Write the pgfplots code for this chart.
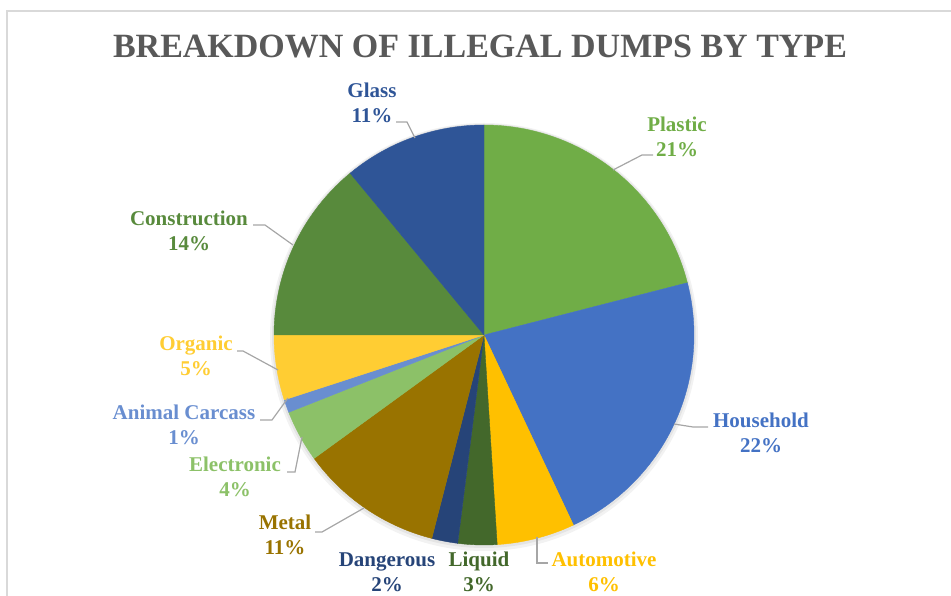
\documentclass[border=0pt]{standalone}
\usepackage{pgfplots}
\pgfplotsset{compat=1.18}
\usepackage{pgfplotstable}
\usepackage{fontspec}
\setmainfont{Liberation Serif}

\definecolor{cPlastic}{HTML}{70AD47}
\definecolor{cHousehold}{HTML}{4472C4}
\definecolor{cAutomotive}{HTML}{FFC000}
\definecolor{cLiquid}{HTML}{43682B}
\definecolor{cDangerous}{HTML}{264478}
\definecolor{cMetal}{HTML}{997300}
\definecolor{cElectronic}{HTML}{8CC168}
\definecolor{cAnimal}{HTML}{698ED0}
\definecolor{cOrganic}{HTML}{FFCD33}
\definecolor{cConstruction}{HTML}{588A3C}
\definecolor{cGlass}{HTML}{2F5597}
\definecolor{cTitle}{HTML}{595959}
\definecolor{cBorder}{HTML}{D9D9D9}
\definecolor{cLeader}{HTML}{A6A6A6}

\pgfplotstableread{
name value color
Plastic 21 cPlastic
Household 22 cHousehold
Automotive 6 cAutomotive
Liquid 3 cLiquid
Dangerous 2 cDangerous
Metal 11 cMetal
Electronic 4 cElectronic
AnimalCarcass 1 cAnimal
Organic 5 cOrganic
Construction 14 cConstruction
Glass 11 cGlass
}\piedata

\begin{document}
\begin{tikzpicture}[x=1pt,y=1pt]
\useasboundingbox (0,0) rectangle (951,596);
\clip (0,0) rectangle (951,596);
\draw[cBorder, line width=1.5pt] (7,-5) -- (7,585) -- (960,585);

% soft shadow
\fill[black, opacity=0.05] (484,259) circle (214);
\fill[black, opacity=0.06] (484,260) circle (212);

\begin{axis}[at={(274pt,51pt)}, anchor=south west,
  width=420pt, height=420pt, scale only axis,
  xmin=-1, xmax=1, ymin=-1, ymax=1, hide axis, clip=false]
\pgfplotstablegetrowsof{\piedata}
\pgfmathtruncatemacro\N{\pgfplotsretval-1}
\def\cum{0}
\pgfplotsforeachungrouped \i in {0,...,\N}{%
  \pgfplotstablegetelem{\i}{value}\of\piedata \let\v\pgfplotsretval
  \pgfplotstablegetelem{\i}{color}\of\piedata \let\c\pgfplotsretval
  \pgfmathsetmacro\aS{90-3.6*\cum}%
  \pgfmathsetmacro\aE{90-3.6*(\cum+\v)}%
  \edef\tmp{\noexpand\addplot[fill=\c, draw=\c, line width=0.4pt, domain=\aE:\aS, samples=90] ({cos(x)},{sin(x)}) -- (0,0) -- cycle;}%
  \tmp
  \pgfmathsetmacro\cum{\cum+\v}%
}
\end{axis}

% title
\node[font=\fontsize{34}{40}\selectfont\bfseries, text=cTitle] at (480,549) {BREAKDOWN OF ILLEGAL DUMPS BY TYPE};

% leader lines
\begin{scope}[cLeader, line width=1.2pt]
\draw (396,474) -- (407,474) -- (415,458);
\draw (653,441) -- (642,441) -- (613,426);
\draw (674,172) -- (693,169) -- (708,169);
\draw (537,59) -- (537,33) -- (548,33);
\draw (315,64) -- (322,64) -- (364,88);
\draw (287,124) -- (295,124) -- (302,159);
\draw (260,176) -- (272,176) -- (288,198);
\draw (237,245) -- (243,245) -- (278,226);
\draw (253,371) -- (265,371) -- (293,351);
\end{scope}

% labels
\tikzset{lab/.style={align=center, inner sep=0pt, font=\fontsize{21}{25}\selectfont\bfseries}}
\node[lab, text=cGlass] at (372,493) {Glass\\11\%};
\node[lab, text=cPlastic] at (677,459) {Plastic\\21\%};
\node[lab, text=cHousehold] at (761,163) {Household\\22\%};
\node[lab, text=cAutomotive] at (604,24) {Automotive\\6\%};
\node[lab, text=cLiquid] at (479,24) {Liquid\\3\%};
\node[lab, text=cDangerous] at (387,24) {Dangerous\\2\%};
\node[lab, text=cMetal] at (285,61) {Metal\\11\%};
\node[lab, text=cElectronic] at (235,119) {Electronic\\4\%};
\node[lab, text=cAnimal] at (184,171) {Animal Carcass\\1\%};
\node[lab, text=cOrganic] at (196,240) {Organic\\5\%};
\node[lab, text=cConstruction] at (189,365) {Construction\\14\%};
\end{tikzpicture}
\end{document}
